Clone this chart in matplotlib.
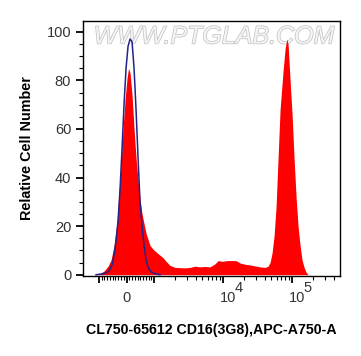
import matplotlib
matplotlib.use("Agg")
import matplotlib.pyplot as plt
import matplotlib.transforms as mtransforms
from matplotlib.ticker import FixedLocator, MultipleLocator, NullFormatter
import matplotlib.patheffects as pe

plt.rcParams["font.family"] = ["Liberation Sans", "DejaVu Sans"]

# sample histogram (CD16 stained), x in fluorescence units, y in % of max
red_x = [-1139, -960, -815, -670, -562, -453, -344, -272, -199, -127, -54, 18, 72,
         127, 199, 272, 344, 417, 489, 562, 634, 707, 851, 960, 1102, 1218, 1346,
         1488, 1700, 2009, 2373, 2804, 3313, 3915, 4626, 5467, 6458, 7632, 8435,
         9639, 11390, 13459, 15380, 17580, 20770, 24540, 29000, 34260, 40480,
         44750, 47840, 51140, 54670, 58440, 62480, 66780, 73830, 78920, 83520,
         87230, 93250, 99680, 106500, 113900, 121700, 130200, 139100, 148800,
         159000, 170000]
red_y = [0, 0.5, 1.5, 3.5, 6, 12, 22, 34, 45, 60, 72, 81, 85,
         83, 74, 60, 48, 39, 31, 25, 21, 17, 12, 10.5, 9, 8, 7,
         5.5, 3.8, 3, 2.9, 2.8, 3, 3.5, 3.2, 3.4, 3.2, 4.5, 5.8,
         5.5, 5.8, 5.8, 5.8, 4.8, 4.3, 4, 3.6, 3.2, 3,
         3.5, 5, 9, 16, 28, 48, 68, 84, 93, 97,
         95, 80, 66, 48, 32, 20, 12, 6, 3,
         1, 0]

# unstained control histogram
blue_x = [-1102, -888, -743, -634, -525, -453, -380, -308, -236, -163, -91, -18,
          54, 127, 199, 272, 344, 417, 489, 562, 634, 707, 779, 888, 1030, 1218]
blue_y = [0, 0.3, 0.8, 1.5, 4, 8, 14, 22, 35, 52, 70, 85,
          94, 97, 96, 85, 68, 48, 30, 20, 12, 6, 3, 1.2, 0.4, 0]

x_major = [-1000, 0, 1000, 1e4, 1e5]
x_major_labels = ["", "0", "", "", ""]
decade_ticks = [1e4, 1e5]
decade_exps = ["4", "5"]
x_minor = ([-100 * k for k in range(1, 10)] + [100 * k for k in range(1, 10)]
           + [1000 * k for k in range(2, 10)] + [1e4 * k for k in range(2, 10)]
           + [1e5 * k for k in range(2, 5)])

fig = plt.figure(figsize=(3.61, 3.56), dpi=100)
ax = fig.add_axes([0.23, 0.225, 0.712, 0.717])

ax.fill_between(red_x, red_y, 0, color="#ff0000", lw=0, zorder=2)
ax.plot(blue_x, blue_y, color="#22228a", lw=1.1, zorder=3)

ax.set_xscale("symlog", linthresh=1000, linscale=0.36)
ax.set_xlim(-1700, 494000)
ax.set_ylim(-0.5, 104.6)

ax.xaxis.set_major_locator(FixedLocator(x_major))
ax.set_xticklabels(x_major_labels)
ax.xaxis.set_minor_locator(FixedLocator(x_minor))
ax.xaxis.set_minor_formatter(NullFormatter())
ax.yaxis.set_major_locator(MultipleLocator(20))
ax.yaxis.set_minor_locator(MultipleLocator(5))

ax.tick_params(axis="both", which="major", length=5, width=1.3, labelsize=10.5,
               labelcolor="#333333", direction="out")
ax.tick_params(axis="both", which="minor", length=3, width=0.8, direction="out")
ax.tick_params(axis="x", which="major", pad=6)
for s in ax.spines.values():
    s.set_linewidth(1.0)

# FlowJo-style decade labels: "10" with a full-size raised exponent
blend = mtransforms.blended_transform_factory(ax.transData, ax.transAxes)
for xv, e in zip(decade_ticks, decade_exps):
    t10 = mtransforms.offset_copy(blend, fig=fig, x=4.5, y=0, units="dots")
    ax.text(xv, -0.086, "10", transform=t10, ha="center", va="center",
            fontsize=10.5, color="#333333", clip_on=False)
    te = mtransforms.offset_copy(blend, fig=fig, x=15.5, y=0, units="dots")
    ax.text(xv, -0.047, e, transform=te, ha="center", va="center",
            fontsize=10.5, color="#333333", clip_on=False)

ax.set_ylabel("Relative Cell Number", fontsize=10.4, fontweight="bold", labelpad=9)
ax.set_xlabel("CL750-65612 CD16(3G8),APC-A750-A", fontsize=10.2, fontweight="bold",
              labelpad=13)

ax.text(0.51, 0.985, "WWW.PTGLAB.COM", transform=ax.transAxes, ha="center", va="top",
        fontsize=18, fontstyle="italic", color="#f4f4f4", zorder=1,
        path_effects=[pe.withStroke(linewidth=1.0, foreground="#c0c0c0")])

fig.savefig("out.png", dpi=100)
